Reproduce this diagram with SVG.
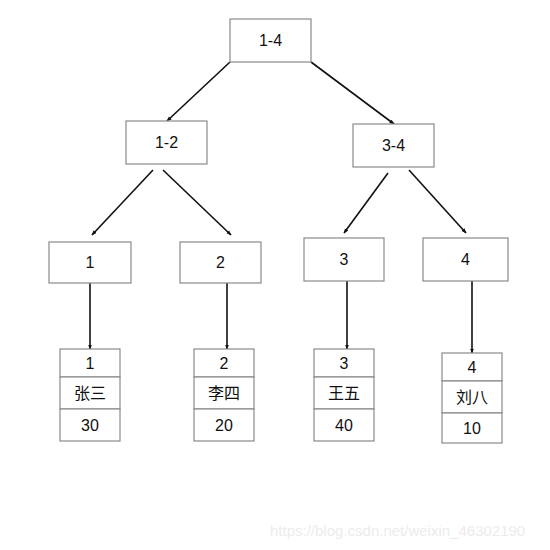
<svg xmlns="http://www.w3.org/2000/svg" width="550" height="550" viewBox="0 0 550 550">
<style>
.box{fill:#fff;stroke:#8a8a8a;stroke-width:1.2}
.t{font-family:"Liberation Sans","Noto Sans CJK SC",sans-serif;font-size:16px;fill:#111;text-anchor:middle;dominant-baseline:central}
.c{stroke:#111;stroke-width:1.6;fill:none;marker-end:url(#ah)}
.wm{font-family:"Liberation Sans",sans-serif;font-size:15px;fill:#ececec}
</style>
<defs>
<marker id="ah" viewBox="0 0 10 10" refX="9" refY="5" markerWidth="5" markerHeight="5" orient="auto" markerUnits="userSpaceOnUse">
<path d="M0,1 L10,5 L0,9 z" fill="#111"/>
</marker>
</defs>
<rect width="550" height="550" fill="#fff"/>
<g id="connectors">
<line class="c" x1="230" y1="62" x2="167" y2="121"/>
<line class="c" x1="311" y1="62" x2="394" y2="124"/>
<line class="c" x1="153" y1="170" x2="92" y2="235"/>
<line class="c" x1="163" y1="170" x2="231" y2="235"/>
<line class="c" x1="388" y1="173" x2="344" y2="233"/>
<line class="c" x1="409" y1="170" x2="466" y2="233"/>
<line class="c" x1="90" y1="283" x2="90" y2="349"/>
<line class="c" x1="227" y1="283" x2="227" y2="349"/>
<line class="c" x1="347" y1="281" x2="347" y2="349"/>
<line class="c" x1="472" y1="281" x2="472" y2="353"/>
</g>
<g id="n14"><rect class="box" x="230" y="19" width="81" height="43"/><text class="t" x="270.5" y="40.5">1-4</text></g>
<g id="n12"><rect class="box" x="126" y="121" width="81" height="43"/><text class="t" x="166.5" y="142.5">1-2</text></g>
<g id="n34"><rect class="box" x="353" y="124" width="81" height="43"/><text class="t" x="393.5" y="145.5">3-4</text></g>
<g id="n1"><rect class="box" x="49" y="242" width="82" height="41"/><text class="t" x="90" y="262.5">1</text></g>
<g id="n2"><rect class="box" x="180" y="242" width="81" height="41"/><text class="t" x="220.5" y="262.5">2</text></g>
<g id="n3"><rect class="box" x="304" y="238" width="80" height="43"/><text class="t" x="344" y="259.5">3</text></g>
<g id="n4"><rect class="box" x="423" y="238" width="85" height="43"/><text class="t" x="465.5" y="259.5">4</text></g>
<g id="leaf1"><rect class="box" x="60" y="349" width="60" height="28"/><rect class="box" x="60" y="377" width="60" height="32"/><rect class="box" x="60" y="409" width="60" height="32"/>
<text class="t" x="90" y="363">1</text><text class="t" x="90" y="393">张三</text><text class="t" x="90" y="425">30</text></g>
<g id="leaf2"><rect class="box" x="194" y="349" width="60" height="28"/><rect class="box" x="194" y="377" width="60" height="32"/><rect class="box" x="194" y="409" width="60" height="32"/>
<text class="t" x="224" y="363">2</text><text class="t" x="224" y="393">李四</text><text class="t" x="224" y="425">20</text></g>
<g id="leaf3"><rect class="box" x="314" y="349" width="60" height="28"/><rect class="box" x="314" y="377" width="60" height="32"/><rect class="box" x="314" y="409" width="60" height="32"/>
<text class="t" x="344" y="363">3</text><text class="t" x="344" y="393">王五</text><text class="t" x="344" y="425">40</text></g>
<g id="leaf4"><rect class="box" x="442" y="353" width="60" height="28"/><rect class="box" x="442" y="381" width="60" height="32"/><rect class="box" x="442" y="413" width="60" height="30"/>
<text class="t" x="472" y="367">4</text><text class="t" x="472" y="397">刘八</text><text class="t" x="472" y="428">10</text></g>
<text class="wm" x="270" y="536">https://blog.csdn.net/weixin_46302190</text>
</svg>
